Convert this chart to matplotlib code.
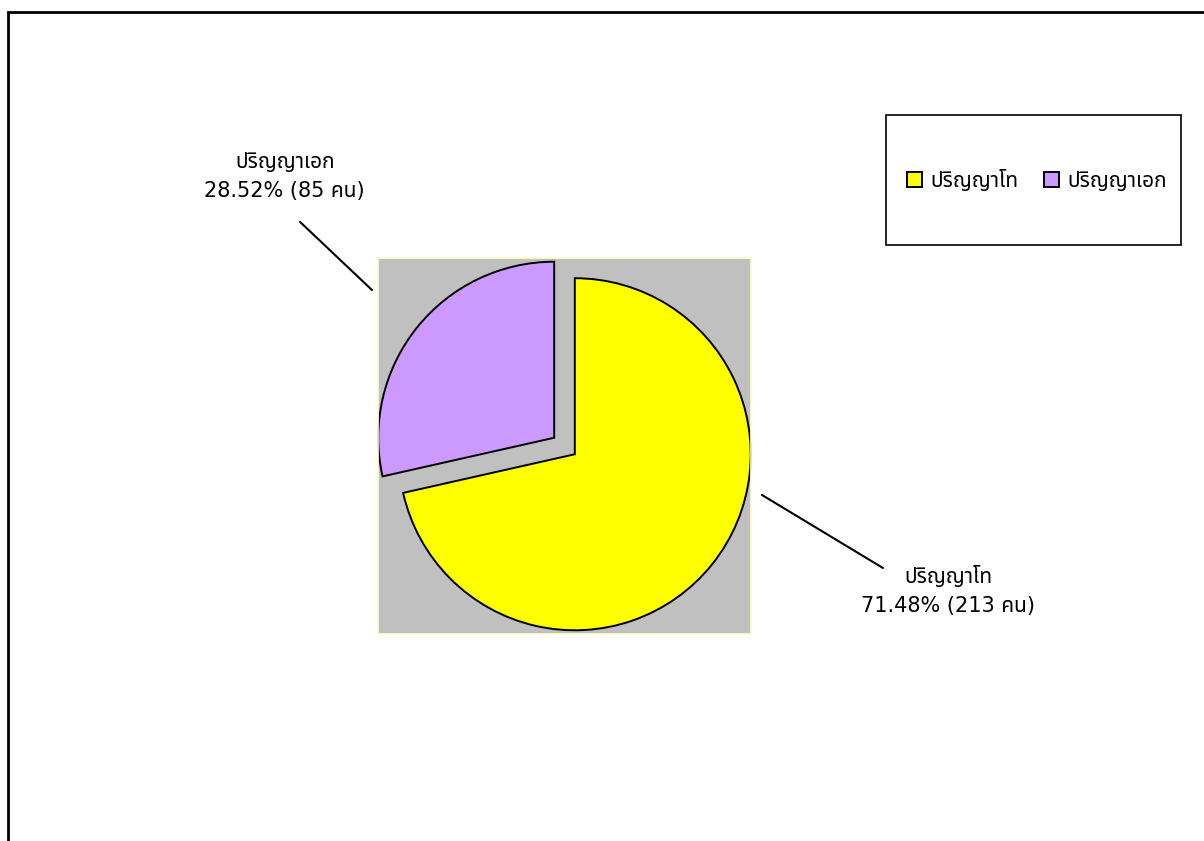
import matplotlib
matplotlib.use("Agg")
import matplotlib.pyplot as plt
from matplotlib.patches import Rectangle

# ข้อมูล
labels = ["ปริญญาโท", "ปริญญาเอก"]
counts = [213, 85]
percents = [71.48, 28.52]
colors = ["#FFFF00", "#CC99FF"]

# ตัวเลขใช้ DejaVu, ตัวอักษรไทยใช้ Noto Sans Thai
font = ["DejaVu Sans", "Noto Sans Thai"]

fig = plt.figure(figsize=(12.04, 8.41), dpi=100)

# กรอบนอกของแผนภูมิ
fig.patches.append(Rectangle((8 / 1204, -0.5), 2.0, 0.5 + 1 - 12 / 841,
                             transform=fig.transFigure, fill=False,
                             edgecolor="black", linewidth=2))

# พื้นที่วงกลม
ax = fig.add_axes([378 / 1204, (841 - 634) / 841, 373 / 1204, 376 / 841])
wedges, _ = ax.pie(counts, colors=colors, startangle=90, counterclock=False,
                   explode=[0.075, 0.075], radius=1.0, frame=True,
                   wedgeprops=dict(edgecolor="black", linewidth=1.4))
ax.set_facecolor("#C0C0C0")
for s in ax.spines.values():
    s.set_color("#FFFFCC")
    s.set_linewidth(1.2)
ax.set_xticks([])
ax.set_yticks([])
ax.set_xlim(-1.06, 1.06)
ax.set_ylim(-1.068, 1.068)
ax.set_aspect("auto")

# ป้ายข้อความพร้อมเส้นโยง
label_text = [f"{l}\n{p:.2f}% ({c} คน)" for l, p, c in zip(labels, percents, counts)]
text_pos = [(2.18, -0.82), (-1.59, 1.53)]
line_pos = [((1.122, -0.278), (1.81, -0.693)), ((-1.094, 0.886), (-1.503, 1.273))]
for txt, tp, (a, b) in zip(label_text, text_pos, line_pos):
    ax.annotate("", xy=a, xytext=b, annotation_clip=False,
                arrowprops=dict(arrowstyle="-", color="black", lw=1.5,
                                shrinkA=0, shrinkB=0))
    ax.text(tp[0], tp[1], txt, ha="center", va="center", fontsize=15,
            family=font, linespacing=1.6, clip_on=False, color="black")

# คำอธิบายสัญลักษณ์
fig.patches.append(Rectangle((886 / 1204, (841 - 245) / 841), 295 / 1204, 130 / 841,
                             transform=fig.transFigure, fill=False,
                             edgecolor="black", linewidth=1.2))
leg = fig.legend(wedges, labels, loc="center",
                 bbox_to_anchor=((886 + 151) / 1204, (841 - 180) / 841),
                 ncol=2, frameon=False, handlelength=0.75, handleheight=0.75,
                 handletextpad=0.4, columnspacing=1.2,
                 prop=dict(family=font, size=15))
for h in leg.legend_handles:
    h.set_linewidth(1.4)

fig.savefig("out.png", dpi=100)
